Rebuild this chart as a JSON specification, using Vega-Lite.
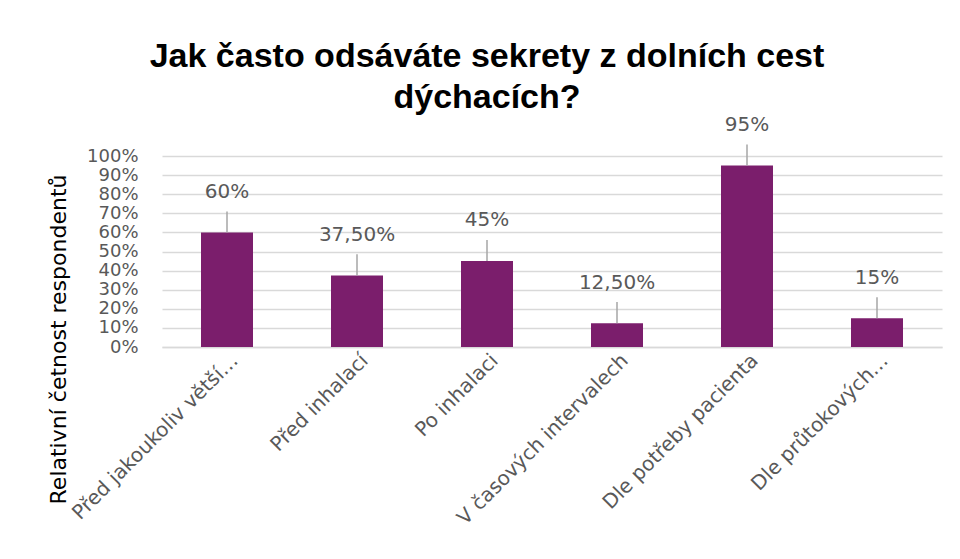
{
  "$schema": "https://vega.github.io/schema/vega-lite/v6.json",
  "width": 780,
  "height": 191,
  "autosize": {"type": "none"},
  "padding": {"left": 162, "top": 156, "right": 18, "bottom": 212},
  "background": "white",
  "title": {
    "text": ["Jak často odsáváte sekrety z dolních cest", "dýchacích?"],
    "font": "Liberation Sans",
    "fontSize": 34,
    "fontWeight": "bold",
    "color": "#000000",
    "anchor": "middle",
    "frame": "group",
    "dx": -65,
    "offset": 0,
    "lineHeight": 41
  },
  "data": {
    "values": [
      {"kategorie": "Před jakoukoliv větší…", "hodnota": 60, "popisek": "60%"},
      {"kategorie": "Před inhalací", "hodnota": 37.5, "popisek": "37,50%"},
      {"kategorie": "Po inhalaci", "hodnota": 45, "popisek": "45%"},
      {"kategorie": "V časových intervalech", "hodnota": 12.5, "popisek": "12,50%"},
      {"kategorie": "Dle potřeby pacienta", "hodnota": 95, "popisek": "95%"},
      {"kategorie": "Dle průtokových…", "hodnota": 15, "popisek": "15%"}
    ]
  },
  "transform": [
    {"calculate": "datum.hodnota + 11", "as": "vodicKonec"},
    {"calculate": "datum.hodnota + 16", "as": "popisekY"}
  ],
  "encoding": {
    "x": {
      "field": "kategorie",
      "type": "nominal",
      "sort": null,
      "scale": {"paddingInner": 0.6, "paddingOuter": 0.3},
      "axis": {
        "title": null,
        "labelAngle": -45,
        "labelAlign": "right",
        "labelBaseline": "middle",
        "labelFont": "DejaVu Sans",
        "labelFontSize": 20,
        "labelColor": "#595959",
        "labelPadding": 10,
        "labelOffset": 8,
        "labelLimit": 400,
        "ticks": false,
        "domain": true,
        "domainColor": "#d9d9d9",
        "domainWidth": 1.5
      }
    }
  },
  "layer": [
    {
      "mark": {"type": "bar", "color": "#7B1E6C"},
      "encoding": {
        "y": {
          "field": "hodnota",
          "type": "quantitative",
          "scale": {"domain": [0, 100], "nice": false},
          "axis": {
            "title": "Relativní četnost respondentů",
            "titleFont": "DejaVu Sans",
            "titleFontSize": 22,
            "titleFontWeight": "normal",
            "titleColor": "#000000",
            "titleAngle": -90,
            "titleX": -104,
            "titleY": 183,
            "titleAlign": "center",
            "titleBaseline": "middle",
            "values": [0, 10, 20, 30, 40, 50, 60, 70, 80, 90, 100],
            "labelExpr": "datum.value + '%'",
            "labelFont": "DejaVu Sans",
            "labelFontSize": 18,
            "labelColor": "#595959",
            "labelPadding": 24,
            "labelOverlap": false,
            "labelFlush": false,
            "ticks": false,
            "domain": false,
            "grid": true,
            "gridColor": "#d9d9d9",
            "gridWidth": 1.5
          }
        }
      }
    },
    {
      "mark": {"type": "rule", "color": "#a6a6a6", "strokeWidth": 1.5},
      "encoding": {
        "y": {
          "field": "hodnota",
          "type": "quantitative",
          "axis": {
            "title": "Relativní četnost respondentů",
            "titleFont": "DejaVu Sans",
            "titleFontSize": 22,
            "titleFontWeight": "normal",
            "titleColor": "#000000",
            "titleAngle": -90,
            "titleX": -104,
            "titleY": 183,
            "titleAlign": "center",
            "titleBaseline": "middle",
            "values": [0, 10, 20, 30, 40, 50, 60, 70, 80, 90, 100],
            "labelExpr": "datum.value + '%'",
            "labelFont": "DejaVu Sans",
            "labelFontSize": 18,
            "labelColor": "#595959",
            "labelPadding": 24,
            "labelOverlap": false,
            "labelFlush": false,
            "ticks": false,
            "domain": false,
            "grid": true,
            "gridColor": "#d9d9d9",
            "gridWidth": 1.5
          }
        },
        "y2": {"field": "vodicKonec"}
      }
    },
    {
      "mark": {
        "type": "text",
        "font": "DejaVu Sans",
        "fontSize": 20,
        "color": "#595959",
        "baseline": "bottom",
        "clip": false
      },
      "encoding": {
        "y": {
          "field": "popisekY",
          "type": "quantitative",
          "axis": {
            "title": "Relativní četnost respondentů",
            "titleFont": "DejaVu Sans",
            "titleFontSize": 22,
            "titleFontWeight": "normal",
            "titleColor": "#000000",
            "titleAngle": -90,
            "titleX": -104,
            "titleY": 183,
            "titleAlign": "center",
            "titleBaseline": "middle",
            "values": [0, 10, 20, 30, 40, 50, 60, 70, 80, 90, 100],
            "labelExpr": "datum.value + '%'",
            "labelFont": "DejaVu Sans",
            "labelFontSize": 18,
            "labelColor": "#595959",
            "labelPadding": 24,
            "labelOverlap": false,
            "labelFlush": false,
            "ticks": false,
            "domain": false,
            "grid": true,
            "gridColor": "#d9d9d9",
            "gridWidth": 1.5
          }
        },
        "text": {"field": "popisek"}
      }
    }
  ],
  "config": {
    "view": {"stroke": null}
  }
}
